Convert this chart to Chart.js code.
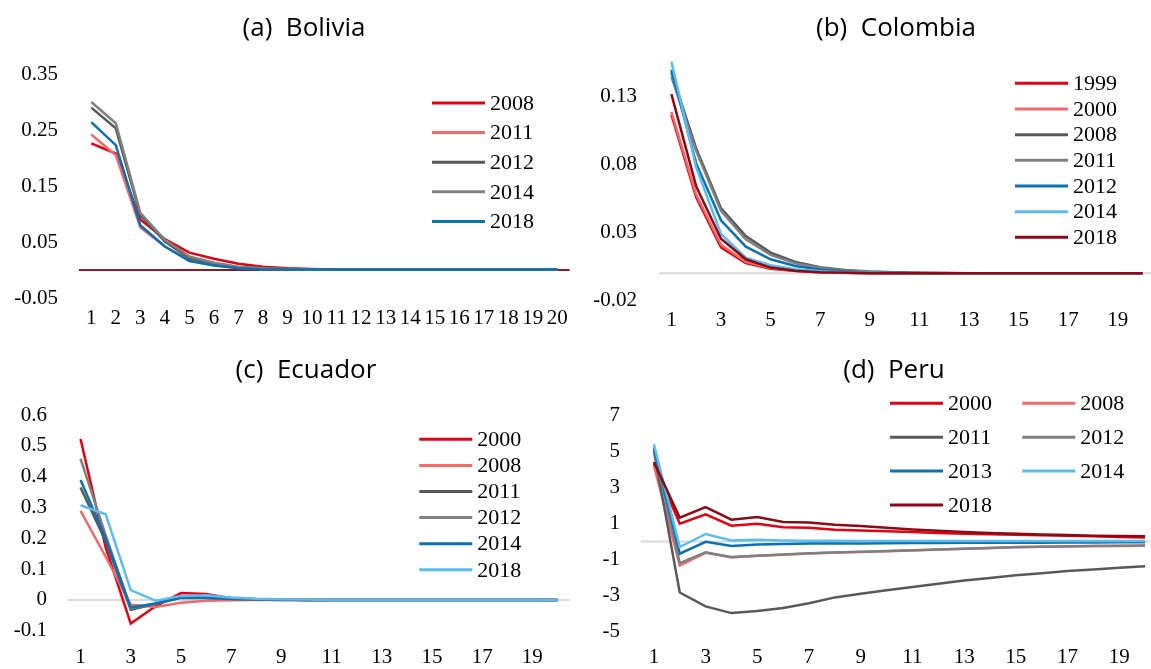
<!DOCTYPE html>
<html>
<head>
<meta charset="utf-8">
<script src="https://cdn.jsdelivr.net/npm/chart.js@4.4.1/dist/chart.umd.min.js"></script>
<style>
  html, body { margin: 0; padding: 0; background: #fff; overflow: hidden; }
  body { width: 1151px; height: 669px; position: relative; }
  canvas { position: absolute; }
</style>
</head>
<body>
<canvas id="bol" width="576" height="335" style="left:0px;top:0px"></canvas>
<canvas id="col" width="632" height="335" style="left:580px;top:0px"></canvas>
<canvas id="ecu" width="576" height="334" style="left:0px;top:335px"></canvas>
<canvas id="per" width="632" height="334" style="left:580px;top:335px"></canvas>
<script>
/* horizon labels, shared by all panels */
const periods = ['1','2','3','4','5','6','7','8','9','10','11','12','13','14','15','16','17','18','19','20'];

/* colours used in the figure */
const RED = '#E60012', SALMON = '#F06A6A', DGREY = '#595959', GREY = '#808080',
      BLUE = '#0A72B4', LBLUE = '#5BBDEE', DRED = '#8C0A14';

/* (a) Bolivia */
const bolYears = ['2008', '2011', '2012', '2014', '2018'];
const bol2008 = [0.226, 0.208, 0.090, 0.055, 0.031, 0.020, 0.011, 0.006, 0.003, 0.002, 0.001, 0.001, 0.001, 0.001, 0.001, 0.001, 0.001, 0.001, 0.001, 0.001];
const bol2011 = [0.242, 0.205, 0.076, 0.042, 0.018, 0.009, 0.004, 0.002, 0.001, 0.001, 0.001, 0.001, 0.001, 0.001, 0.001, 0.001, 0.001, 0.001, 0.001, 0.001];
const bol2012 = [0.290, 0.253, 0.098, 0.051, 0.021, 0.011, 0.005, 0.003, 0.001, 0.001, 0.001, 0.001, 0.001, 0.001, 0.001, 0.001, 0.001, 0.001, 0.001, 0.001];
const bol2014 = [0.300, 0.262, 0.102, 0.054, 0.024, 0.013, 0.006, 0.003, 0.002, 0.001, 0.001, 0.001, 0.001, 0.001, 0.001, 0.001, 0.001, 0.001, 0.001, 0.001];
const bol2018 = [0.264, 0.223, 0.080, 0.042, 0.016, 0.008, 0.003, 0.001, 0.001, 0.001, 0.001, 0.001, 0.001, 0.001, 0.001, 0.001, 0.001, 0.001, 0.001, 0.001];

/* (b) Colombia */
const colYears = ['1999', '2000', '2008', '2011', '2012', '2014', '2018'];
const col1999 = [0.117, 0.056, 0.019, 0.0075, 0.0033, 0.0016, 0.0007, 0.0003, 0.0001, 0, 0, 0, 0, 0, 0, 0, 0, 0, 0, 0];
const col2000 = [0.119, 0.058, 0.021, 0.0085, 0.0038, 0.0018, 0.0008, 0.0004, 0.0002, 0, 0, 0, 0, 0, 0, 0, 0, 0, 0, 0];
const col2008 = [0.148, 0.092, 0.048, 0.0275, 0.0152, 0.0083, 0.0045, 0.0024, 0.0013, 0.0007, 0.0004, 0.0002, 0.0001, 0, 0, 0, 0, 0, 0, 0];
const col2011 = [0.145, 0.090, 0.046, 0.025, 0.0135, 0.0073, 0.004, 0.0021, 0.0011, 0.0006, 0.0003, 0.0002, 0.0001, 0, 0, 0, 0, 0, 0, 0];
const col2012 = [0.150, 0.081, 0.039, 0.0196, 0.0103, 0.0054, 0.0027, 0.0013, 0.0006, 0.0003, 0.0001, 0, 0, 0, 0, 0, 0, 0, 0, 0];
const col2014 = [0.156, 0.078, 0.029, 0.0115, 0.0059, 0.003, 0.0014, 0.0006, 0.0003, 0.0001, 0, 0, 0, 0, 0, 0, 0, 0, 0, 0];
const col2018 = [0.132, 0.064, 0.0255, 0.0103, 0.0042, 0.0018, 0.0008, 0.0003, 0.0001, 0, 0, 0, 0, 0, 0, 0, 0, 0, 0, 0];

/* (c) Ecuador */
const ecuYears = ['2000', '2008', '2011', '2012', '2014', '2018'];
const ecu2000 = [0.522, 0.170, -0.077, -0.020, 0.022, 0.019, 0.005, 0.002, 0.001, 0, 0, 0, 0, 0, 0, 0, 0, 0, 0, 0];
const ecu2008 = [0.289, 0.140, -0.016, -0.023, -0.009, -0.003, -0.001, 0, 0, 0, 0, 0, 0, 0, 0, 0, 0, 0, 0, 0];
const ecu2011 = [0.365, 0.190, -0.032, -0.013, 0.007, 0.006, 0.003, 0.001, 0, 0, 0, 0, 0, 0, 0, 0, 0, 0, 0, 0];
const ecu2012 = [0.458, 0.210, -0.027, -0.012, 0.009, 0.007, 0.004, 0.002, 0.001, 0, 0, 0, 0, 0, 0, 0, 0, 0, 0, 0];
const ecu2014 = [0.389, 0.200, -0.025, -0.012, 0.008, 0.007, 0.004, 0.002, 0.001, 0, 0, 0, 0, 0, 0, 0, 0, 0, 0, 0];
const ecu2018 = [0.307, 0.278, 0.032, -0.003, 0.013, 0.015, 0.008, 0.004, 0.002, 0.001, 0, 0, 0, 0, 0, 0, 0, 0, 0, 0];

/* (d) Peru */
const perYears = ['2000', '2008', '2011', '2012', '2013', '2014', '2018'];
const per2000 = [4.30, 0.98, 1.50, 0.87, 0.98, 0.79, 0.76, 0.65, 0.61, 0.56, 0.52, 0.47, 0.42, 0.39, 0.37, 0.34, 0.32, 0.28, 0.24, 0.21];
const per2008 = [4.20, -1.33, -0.63, -0.88, -0.80, -0.74, -0.67, -0.62, -0.59, -0.54, -0.50, -0.45, -0.41, -0.36, -0.32, -0.30, -0.28, -0.26, -0.25, -0.24];
const per2011 = [5.00, -2.83, -3.60, -3.97, -3.86, -3.69, -3.42, -3.10, -2.90, -2.70, -2.53, -2.34, -2.16, -2.02, -1.88, -1.76, -1.64, -1.55, -1.46, -1.37];
const per2012 = [5.10, -1.20, -0.60, -0.87, -0.79, -0.73, -0.66, -0.61, -0.57, -0.53, -0.49, -0.45, -0.40, -0.36, -0.31, -0.29, -0.27, -0.25, -0.24, -0.23];
const per2013 = [5.20, -0.68, -0.02, -0.26, -0.17, -0.15, -0.12, -0.12, -0.11, -0.10, -0.09, -0.09, -0.08, -0.08, -0.07, -0.07, -0.06, -0.06, -0.05, -0.05];
const per2014 = [5.38, -0.31, 0.41, 0.05, 0.09, 0.05, 0.04, 0.03, 0.02, 0.02, 0.02, 0.02, 0.02, 0.02, 0.02, 0.02, 0.02, 0.02, 0.02, 0.02];
const per2018 = [4.40, 1.31, 1.90, 1.20, 1.35, 1.07, 1.05, 0.92, 0.85, 0.76, 0.66, 0.59, 0.52, 0.47, 0.42, 0.38, 0.35, 0.32, 0.30, 0.28];

const SERIF = "'Liberation Serif', 'DejaVu Serif', serif";

/* horizontal line at zero, drawn through the y scale */
const zeroLine = {
    id: 'zeroLine',
    beforeDatasetsDraw(chart, args, opts) {
        const y = chart.scales.y.getPixelForValue(0);
        const ctx = chart.ctx;
        ctx.save();
        ctx.strokeStyle = opts.color;
        ctx.lineWidth = opts.width || 2;
        ctx.beginPath();
        ctx.moveTo(chart.chartArea.left, y);
        ctx.lineTo(chart.chartArea.right + (opts.extend || 0), y);
        ctx.stroke();
        ctx.restore();
    }
};

/* panel title: the built-in one can only centre on the canvas, the original is off-centre */
const panelTitle = {
    id: 'panelTitle',
    afterDraw(chart, args, opts) {
        const ctx = chart.ctx;
        ctx.save();
        ctx.font = "26px 'Open Sans', sans-serif";
        ctx.fillStyle = '#000';
        ctx.textAlign = 'center';
        ctx.textBaseline = 'middle';
        ctx.fillText(opts.text, opts.x, opts.y);
        ctx.restore();
    }
};

/* legend placed inside the plot like the original */
const boxLegend = {
    id: 'boxLegend',
    afterDraw(chart, args, opts) {
        const ctx = chart.ctx;
        const sets = chart.data.datasets;
        ctx.save();
        ctx.font = opts.size + 'px ' + SERIF;
        ctx.textBaseline = 'middle';
        ctx.textAlign = 'left';
        sets.forEach(function(ds, i) {
            const col = i % opts.cols, row = Math.floor(i / opts.cols);
            const x = opts.x + col * opts.colGap;
            const y = opts.y + row * opts.rowGap;
            ctx.strokeStyle = ds.borderColor;
            ctx.lineWidth = 3;
            ctx.beginPath();
            ctx.moveTo(x, y);
            ctx.lineTo(x + opts.lineLen, y);
            ctx.stroke();
            ctx.fillStyle = '#000';
            ctx.fillText(ds.label, x + opts.lineLen + 5, y + 1);
        });
        ctx.restore();
    }
};

function makeChart(id, cfg) {
    const n = cfg.series.length;
    const datasets = cfg.series.map(function(vals, i) {
        return {
            label: cfg.years[i],
            data: vals,
            borderColor: cfg.colours[i],
            backgroundColor: cfg.colours[i],
            borderWidth: 2.5,
            pointRadius: 0,
            tension: 0,
            order: n - i
        };
    });
    return new Chart(document.getElementById(id), {
        type: 'line',
        data: { labels: periods, datasets: datasets },
        plugins: [zeroLine, boxLegend, panelTitle],
        options: {
            responsive: false,
            animation: false,
            events: [],
            layout: { padding: { left: 0, right: cfg.padRight, top: cfg.padTop, bottom: 0 } },
            plugins: {
                legend: { display: false },
                tooltip: { enabled: false },
                title: { display: false },
                panelTitle: cfg.title,
                zeroLine: { color: cfg.zeroColour, width: 2, extend: cfg.zeroExtend || 0 },
                boxLegend: cfg.legend
            },
            scales: {
                x: {
                    offset: true,
                    grid: { display: false, drawTicks: false },
                    border: { display: false },
                    afterFit: function(s) { s.height = cfg.xHeight; },
                    ticks: {
                        autoSkip: false,
                        maxRotation: 0,
                        padding: cfg.xPad,
                        color: '#000',
                        font: { family: SERIF, size: 21 },
                        callback: function(v, i) {
                            return (cfg.everyOther && i % 2 === 1) ? '' : this.getLabelForValue(v);
                        }
                    }
                },
                y: {
                    min: cfg.min,
                    max: cfg.max,
                    grid: { display: false, drawTicks: false },
                    border: { display: false },
                    afterFit: function(s) { s.width = cfg.yWidth; },
                    afterBuildTicks: function(s) {
                        s.ticks = cfg.ticks.map(function(v) { return { value: v }; });
                    },
                    ticks: {
                        padding: cfg.yPad,
                        color: '#000',
                        font: { family: SERIF, size: 21 },
                        callback: cfg.fmt
                    }
                }
            }
        }
    });
}

makeChart('bol', {
    title: { text: '(a)  Bolivia', x: 304, y: 29 }, years: bolYears,
    series: [bol2008, bol2011, bol2012, bol2014, bol2018],
    colours: [RED, SALMON, DGREY, GREY, BLUE],
    min: -0.05, max: 0.35, ticks: [-0.05, 0.05, 0.15, 0.25, 0.35],
    fmt: function(v) { return v.toFixed(2); },
    zeroColour: '#8E1B1F',
    padTop: 74, padRight: 6, yWidth: 79, xHeight: 37, yPad: 21, xPad: 8,
    everyOther: false,
    legend: { x: 432, y: 103, cols: 1, rowGap: 29.6, colGap: 0, lineLen: 53, size: 22 }
});

makeChart('col', {
    title: { text: '(b)  Colombia', x: 316, y: 29 }, years: colYears,
    series: [col1999, col2000, col2008, col2011, col2012, col2014, col2018],
    colours: [RED, SALMON, DGREY, GREY, BLUE, LBLUE, DRED],
    min: -0.02, max: 0.16, ticks: [-0.02, 0.03, 0.08, 0.13],
    fmt: function(v) { return v.toFixed(2); },
    zeroColour: '#D9D9D9', zeroExtend: 20,
    padTop: 56.2, padRight: 57, yWidth: 79, xHeight: 34, yPad: 22, xPad: 7,
    everyOther: true,
    legend: { x: 435, y: 83.3, cols: 1, rowGap: 25.67, colGap: 0, lineLen: 53, size: 22 }
});

makeChart('ecu', {
    title: { text: '(c)  Ecuador', x: 306, y: 36 }, years: ecuYears,
    series: [ecu2000, ecu2008, ecu2011, ecu2012, ecu2014, ecu2018],
    colours: [RED, SALMON, DGREY, GREY, BLUE, LBLUE],
    min: -0.1, max: 0.6, ticks: [-0.1, 0, 0.1, 0.2, 0.3, 0.4, 0.5, 0.6],
    fmt: function(v) { return String(Math.round(v * 10) / 10); },
    zeroColour: '#D9D9D9',
    padTop: 80, padRight: 6, yWidth: 68, xHeight: 38.3, yPad: 21, xPad: 14,
    everyOther: true,
    legend: { x: 419.3, y: 104.3, cols: 1, rowGap: 26.1, colGap: 0, lineLen: 53, size: 22 }
});

makeChart('per', {
    title: { text: '(d)  Peru', x: 314, y: 36 }, years: perYears,
    series: [per2000, per2008, per2011, per2012, per2013, per2014, per2018],
    colours: [RED, SALMON, DGREY, GREY, BLUE, LBLUE, DRED],
    min: -5, max: 7, ticks: [-5, -3, -1, 1, 3, 5, 7],
    fmt: function(v) { return String(v); },
    zeroColour: '#D9D9D9', zeroExtend: 20,
    padTop: 80, padRight: 54, yWidth: 61, xHeight: 37.3, yPad: 21, xPad: 13,
    everyOther: true,
    legend: { x: 310, y: 68.3, cols: 2, rowGap: 33.9, colGap: 132.3, lineLen: 53, size: 22 }
});
</script>
</body>
</html>
